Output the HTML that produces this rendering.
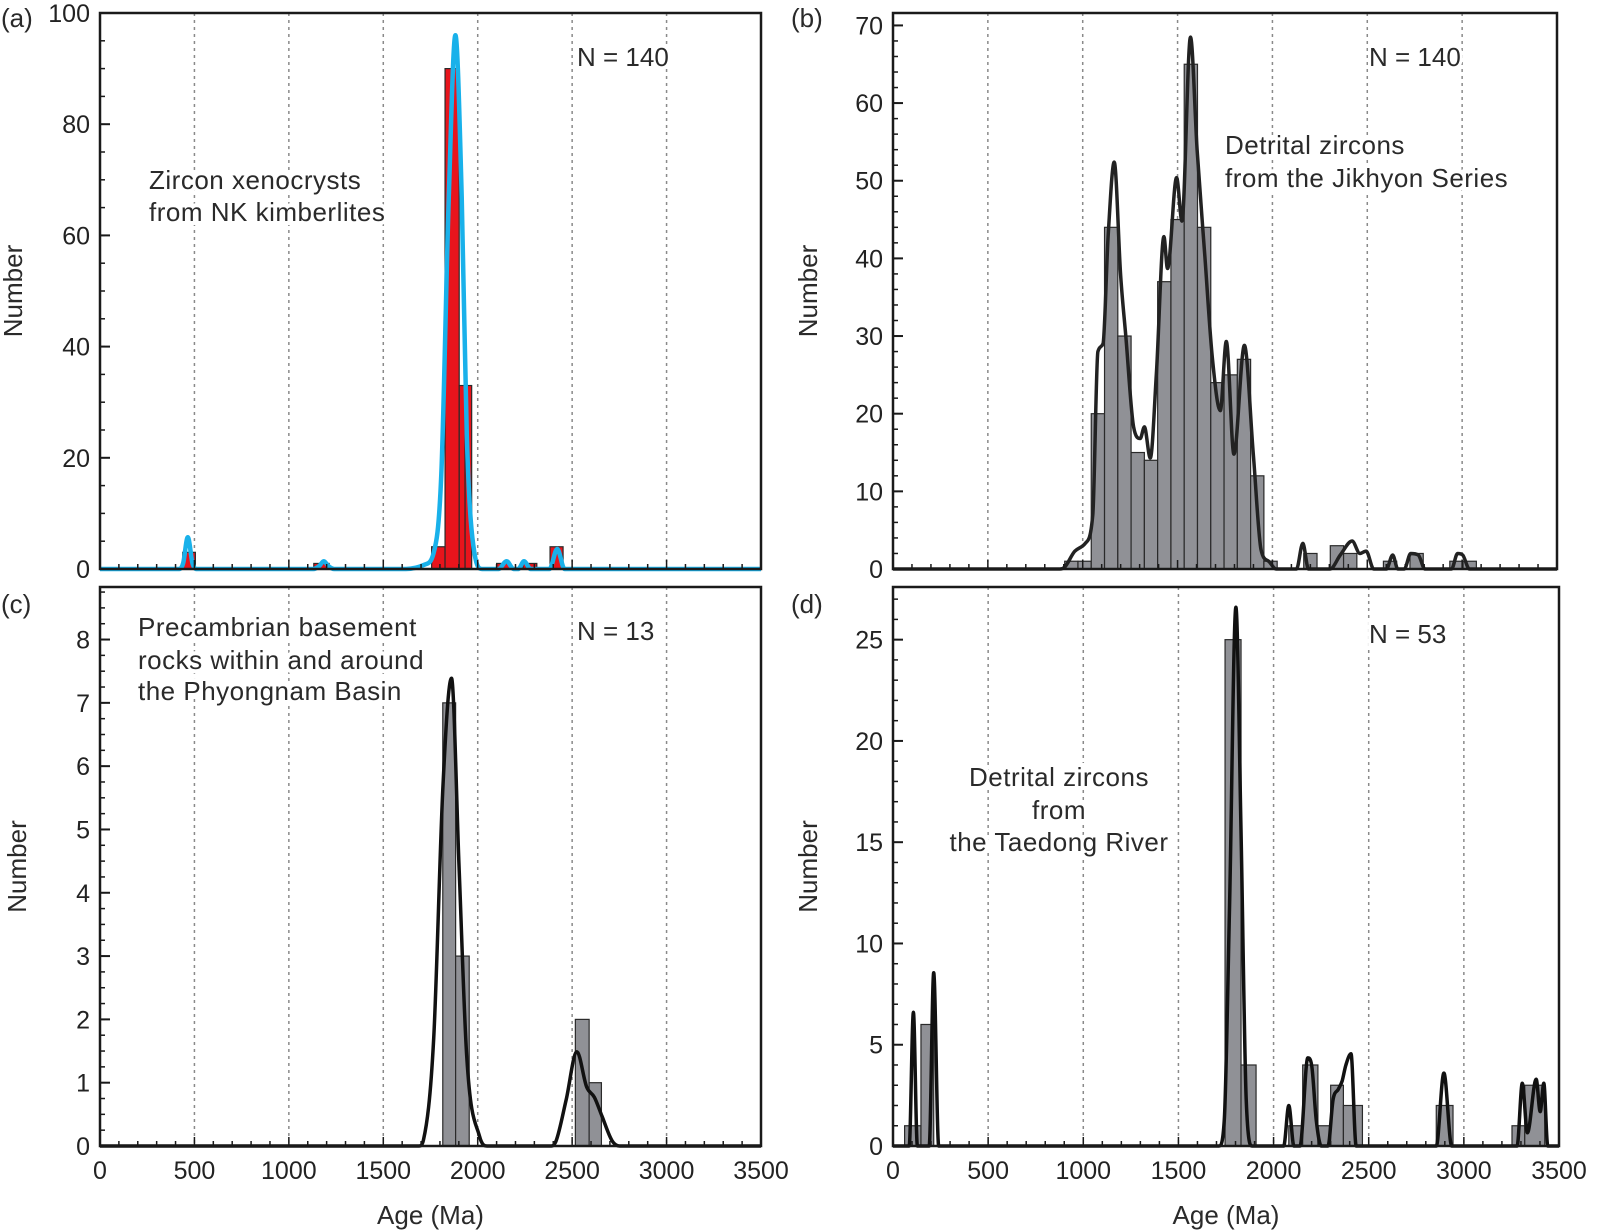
<!DOCTYPE html>
<html><head><meta charset="utf-8">
<style>
html,body{margin:0;padding:0;background:#fff;}
svg{display:block;font-family:"Liberation Sans",Arial,sans-serif;}
</style></head>
<body>
<svg id="fig" width="1601" height="1232" viewBox="0 0 1601 1232" xmlns="http://www.w3.org/2000/svg"></svg>
<script>
// ---- data (ages in Ma) ----
const aBarStart = [438, 1132, 1756, 1827, 1902, 1933, 2100, 2240, 2383];
const aBarEnd   = [505, 1213, 1827, 1902, 1933, 1968, 2171, 2313, 2452];
const aBarCount = [3, 1, 4, 90, 33, 33, 1, 1, 4];
const aCurveAge = [0, 420, 440, 465, 490, 510, 1130, 1160, 1185, 1210, 1240, 1620, 1720, 1766, 1807, 1847, 1882, 1915, 1942, 1983, 2023, 2110, 2153, 2190, 2215, 2245, 2280, 2380, 2421, 2460, 3500];
const aCurveVal = [0, 0, 1, 5.7, 1, 0, 0, 0.5, 1.4, 0.5, 0, 0, 0.8, 2.8, 17, 67, 96, 67, 24, 2.8, 0, 0, 1.4, 0, 0, 1.4, 0, 0, 3.6, 0, 0];
const bBarStart = [905, 975, 1045, 1115, 1185, 1255, 1325, 1395, 1465, 1535, 1605, 1675, 1745, 1815, 1885, 1955, 2165, 2305, 2375, 2585, 2725, 2935, 3005];
const bBarCount = [1, 1, 20, 44, 30, 15, 14, 37, 45, 65, 44, 24, 25, 27, 12, 1, 2, 3, 2, 1, 2, 1, 1];
const bBarWidth = 70;
const bCurveAge = [0, 880, 905, 959, 1013, 1053, 1080, 1107, 1134, 1166, 1200, 1227, 1268, 1303, 1325, 1356, 1388, 1428, 1447, 1495, 1523, 1568, 1603, 1644, 1684, 1725, 1757, 1797, 1852, 1899, 1940, 1980, 2020, 2127, 2160, 2190, 2304, 2358, 2420, 2461, 2494, 2534, 2601, 2634, 2661, 2695, 2729, 2769, 2804, 2944, 2976, 3003, 3038, 3500];
const bCurveVal = [0, 0, 0.25, 2.3, 3.3, 7, 28, 29, 42.8, 52.4, 37.7, 30, 18.3, 16.8, 18.3, 14.3, 25, 42.8, 38.7, 50.4, 44.8, 68.5, 54, 40.2, 27, 20.4, 29.3, 14.8, 28.8, 14.8, 2.5, 1, 0, 0, 3.3, 0, 0, 1.8, 3.6, 2, 2.3, 0, 0, 1.8, 0, 0, 2, 1.8, 0, 0, 2, 1.8, 0, 0];
const cBarStart = [1815, 1883, 2517, 2590];
const cBarEnd   = [1883, 1955, 2590, 2655];
const cBarCount = [7, 3, 2, 1];
const cCurveAge = [0, 1690, 1713, 1767, 1816, 1861, 1902, 1942, 2010, 2050, 2390, 2415, 2469, 2525, 2577, 2618, 2658, 2712, 2752, 3500];
const cCurveVal = [0, 0, 0.1, 1.7, 5.7, 7.39, 4.35, 1.4, 0.15, 0, 0, 0.08, 0.74, 1.49, 0.93, 0.77, 0.47, 0.08, 0, 0];
const dBarStart = [61, 147, 1745, 1829, 2080, 2153, 2233, 2300, 2367, 2855, 3253, 3320];
const dBarEnd   = [147, 214, 1829, 1908, 2153, 2233, 2300, 2367, 2467, 2943, 3320, 3425];
const dBarCount = [1, 6, 25, 4, 1, 4, 1, 3, 2, 2, 1, 3];
const dCurveAge = [0, 85, 107, 128, 190, 214, 240, 1714, 1741, 1768, 1802, 1829, 1856, 1887, 2053, 2080, 2107, 2139, 2180, 2200, 2224, 2251, 2286, 2313, 2340, 2360, 2380, 2407, 2434, 2855, 2895, 2936, 3280, 3307, 3334, 3380, 3401, 3420, 3441, 3500];
const dCurveVal = [0, 0, 6.6, 0, 0, 8.55, 0, 0, 1.3, 11.5, 26.6, 15.6, 2.3, 0, 0, 2, 0, 0, 4.35, 4.0, 1.3, 0, 0, 2.3, 2.8, 3.2, 4, 4.55, 0, 0, 3.6, 0, 0, 3.1, 0.65, 3.3, 1.7, 3.1, 0, 0];
const xTicks = [0, 500, 1000, 1500, 2000, 2500, 3000, 3500];
const aYTicks = [0, 20, 40, 60, 80, 100];
const bYTicks = [0, 10, 20, 30, 40, 50, 60, 70];
const cYTicks = [0, 1, 2, 3, 4, 5, 6, 7, 8];
const dYTicks = [0, 5, 10, 15, 20, 25];

const NS = "http://www.w3.org/2000/svg";
const svg = document.getElementById('fig');
function mk(tag, attrs, parent) {
  const e = document.createElementNS(NS, tag);
  for (const k in attrs) e.setAttribute(k, attrs[k]);
  (parent || svg).appendChild(e);
  return e;
}
// monotone cubic path
function monoPath(px, py) {
  const n = px.length;
  const dx = [], s = [], m = [];
  for (let i = 0; i < n - 1; i++) { dx[i] = px[i+1] - px[i]; s[i] = (py[i+1] - py[i]) / (dx[i] || 1e-6); }
  m[0] = s[0]; m[n-1] = s[n-2];
  for (let i = 1; i < n - 1; i++) m[i] = (s[i-1] * s[i] <= 0) ? 0 : (s[i-1] + s[i]) / 2;
  for (let i = 0; i < n - 1; i++) {
    if (s[i] === 0) { m[i] = 0; m[i+1] = 0; continue; }
    const a = m[i] / s[i], b = m[i+1] / s[i], h = a*a + b*b;
    if (h > 9) { const t = 3 / Math.sqrt(h); m[i] = t*a*s[i]; m[i+1] = t*b*s[i]; }
  }
  let d = 'M' + px[0].toFixed(1) + ',' + py[0].toFixed(1);
  for (let i = 0; i < n - 1; i++) {
    const h = dx[i] / 3;
    d += 'C' + (px[i]+h).toFixed(1) + ',' + (py[i]+m[i]*h).toFixed(1) + ' ' + (px[i+1]-h).toFixed(1) + ',' + (py[i+1]-m[i+1]*h).toFixed(1) + ' ' + px[i+1].toFixed(1) + ',' + py[i+1].toFixed(1);
  }
  return d;
}

function panel(o) {
  const g = mk('g', {});
  
  
  const X = a => o.L + (a / 3500) * (o.R - o.L);
  const Y = v => o.B - (v / o.ymax) * (o.B - o.T);
  for (let a = 500; a <= 3000; a += 500) {
    const l = mk('line', {x1: X(a), x2: X(a), y1: o.T, y2: o.B, stroke: '#8a8a8a', 'stroke-width': 1.5, 'stroke-dasharray': '3,4'}, g);
    
    
  }
  o.texts.forEach(t => {
    const tx = mk('text', {x: t[0], y: t[1], 'font-size': 26, fill: '#2a2a2a', 'text-anchor': t[3] || 'start', stroke: '#fff', 'stroke-width': 8, 'paint-order': 'stroke', 'letter-spacing': '0.5'}, g);
    tx.textContent = t[2];
    
    
  });
  const n = mk('text', {x: o.nx, y: o.ny, 'font-size': 26, fill: '#2a2a2a', stroke: '#fff', 'stroke-width': 6, 'paint-order': 'stroke'}, g);
  n.textContent = o.ntext;
  
  
  for (let i = 0; i < o.bs.length; i++) {
    const x0 = X(o.bs[i]), x1 = X(o.be[i]);
    const r = mk('rect', {x: x0, y: Y(o.bc[i]), width: x1 - x0, height: Y(0) - Y(o.bc[i]), fill: o.barFill, stroke: '#2a2a2a', 'stroke-width': 1.2}, g);
    
    
  }
  const px = o.ca.map(X), py = o.cv.map(Y);
  const p = mk('path', {d: monoPath(px, py), fill: 'none', stroke: o.curveColor, 'stroke-width': o.curveW, 'stroke-linejoin': 'round'}, g);
  
  
  const f = mk('rect', {x: o.L, y: o.T, width: o.R - o.L, height: o.B - o.T, fill: 'none', stroke: '#1a1a1a', 'stroke-width': 2.5}, g);
  
  
  for (let a = 100; a < 3500; a += 100) {
    mk('line', {x1: X(a), x2: X(a), y1: o.B, y2: o.B - (a % 500 ? 5 : 9), stroke: '#1a1a1a', 'stroke-width': 1.5}, g);
  }
  for (let v = o.ymin; v <= o.ymax; v += o.yminor) {
    mk('line', {x1: o.L, x2: o.L + 5, y1: Y(v), y2: Y(v), stroke: '#1a1a1a', 'stroke-width': 1.5}, g);
  }
  o.yt.forEach(v => {
    mk('line', {x1: o.L, x2: o.L + 10, y1: Y(v), y2: Y(v), stroke: '#1a1a1a', 'stroke-width': 2}, g);
    const t = mk('text', {x: o.L - 10, y: Y(v) + 9, 'font-size': 25, fill: '#222', 'text-anchor': 'end'}, g);
    t.textContent = v;
    
    
  });
  if (o.xlabels) {
    xTicks.forEach(a => {
      const t = mk('text', {x: X(a), y: o.B + 33, 'font-size': 25, fill: '#222', 'text-anchor': 'middle'}, g);
      t.textContent = a;
      
      
    });
    const xt = mk('text', {x: (o.L + o.R) / 2, y: o.B + 78, 'font-size': 26, fill: '#2a2a2a', 'text-anchor': 'middle'}, g);
    xt.textContent = 'Age (Ma)';
    
    
  }
  const yt = mk('text', {x: 0, y: 0, 'font-size': 26, fill: '#2a2a2a', 'text-anchor': 'middle', transform: `translate(${o.ytx},${(o.T + o.B) / 2}) rotate(-90)`}, g);
  yt.textContent = 'Number';
  
  
  const pl = mk('text', {x: o.plx, y: o.ply, 'font-size': 26, fill: '#2a2a2a'}, g);
  pl.textContent = o.plabel;
  
  
}

panel({name: 'panel-a', L: 100, R: 761, T: 13, B: 569, ymin: 0, ymax: 100, yminor: 5, yt: aYTicks,
  bs: aBarStart, be: aBarEnd, bc: aBarCount, barFill: '#e8141c', ca: aCurveAge, cv: aCurveVal, curveColor: '#19b1ea', curveW: 4.5,
  texts: [[149, 189, 'Zircon xenocrysts'], [149, 221, 'from NK kimberlites']], nx: 577, ny: 66, ntext: 'N = 140',
  xlabels: false, ytx: 22, plx: 1, ply: 27, plabel: '(a)'});
panel({name: 'panel-b', L: 893, R: 1557, T: 13, B: 569, ymin: 0, ymax: 71.6, yminor: 2, yt: bYTicks,
  bs: bBarStart, be: bBarStart.map(s => s + bBarWidth), bc: bBarCount, barFill: '#909196', ca: bCurveAge, cv: bCurveVal, curveColor: '#222', curveW: 3.5,
  texts: [[1225, 154, 'Detrital zircons'], [1225, 187, 'from the Jikhyon Series']], nx: 1369, ny: 66, ntext: 'N = 140',
  xlabels: false, ytx: 817, plx: 791, ply: 27, plabel: '(b)'});
panel({name: 'panel-c', L: 100, R: 761, T: 587, B: 1146, ymin: 0, ymax: 8.83, yminor: 0.25, yt: cYTicks,
  bs: cBarStart, be: cBarEnd, bc: cBarCount, barFill: '#909196', ca: cCurveAge, cv: cCurveVal, curveColor: '#111', curveW: 3.5,
  texts: [[138, 636, 'Precambrian basement'], [138, 669, 'rocks within and around'], [138, 700, 'the Phyongnam Basin']], nx: 577, ny: 640, ntext: 'N = 13',
  xlabels: true, ytx: 26, plx: 1, ply: 613, plabel: '(c)'});
panel({name: 'panel-d', L: 893, R: 1559, T: 587, B: 1146, ymin: 0, ymax: 27.6, yminor: 1, yt: dYTicks,
  bs: dBarStart, be: dBarEnd, bc: dBarCount, barFill: '#909196', ca: dCurveAge, cv: dCurveVal, curveColor: '#111', curveW: 3.5,
  texts: [[1059, 786, 'Detrital zircons', 'middle'], [1059, 819, 'from', 'middle'], [1059, 851, 'the Taedong River', 'middle']], nx: 1369, ny: 643, ntext: 'N = 53',
  xlabels: true, ytx: 817, plx: 791, ply: 613, plabel: '(d)'});
</script>
</body></html>
